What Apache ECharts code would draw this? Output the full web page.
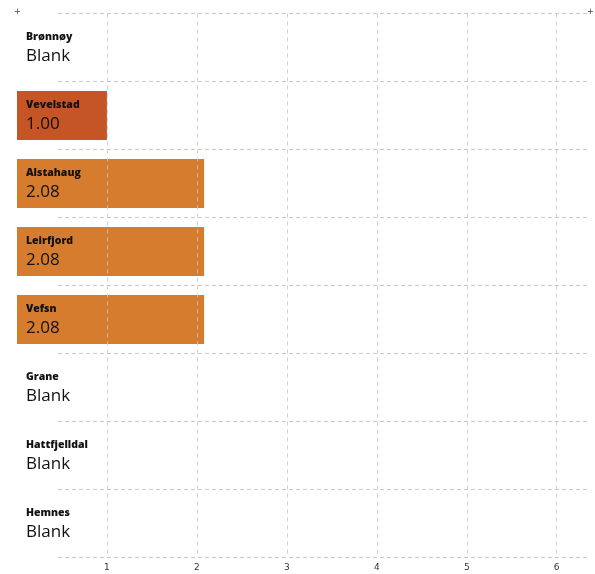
<!DOCTYPE html>
<html>
<head>
<meta charset="utf-8">
<script src="https://cdn.jsdelivr.net/npm/echarts@6/dist/echarts.min.js"></script>
<style>
html,body{margin:0;padding:0;background:#fff;}
#chart{width:595px;height:574px;}
</style>
</head>
<body>
<div id="chart"></div>
<script>
var categories = ['Brønnøy', 'Vevelstad', 'Alstahaug', 'Leirfjord', 'Vefsn', 'Grane', 'Hattfjelldal', 'Hemnes'];
var values = [null, 1.00, 2.08, 2.08, 2.08, null, null, null];
var xTicks = [1, 2, 3, 4, 5, 6];
var highlighted = 'Vevelstad';

var chart = echarts.init(document.getElementById('chart'), null, {renderer: 'canvas'});

var GRID_TOP = 13.5, GRID_BOTTOM = 16.5;
var barData = values.map(function (v, i) {
  if (v === null) return '-';
  return {
    value: v,
    itemStyle: {color: categories[i] === highlighted ? '#c55525' : '#d67c2f'}
  };
});
var carrierData = categories.map(function () { return 0; });

var option = {
  animation: false,
  grid: [
    {left: 17, right: 5, top: GRID_TOP, bottom: GRID_BOTTOM},
    {left: 58, right: 5, top: GRID_TOP, bottom: GRID_BOTTOM}
  ],
  xAxis: [
    {
      gridIndex: 0, type: 'value', min: 0, max: 6.37, interval: 1,
      axisLine: {show: false}, axisTick: {show: false}, splitLine: {show: false},
      axisLabel: {
        show: true, margin: 6, color: '#333', fontSize: 9, fontFamily: 'DejaVu Sans',
        showMaxLabel: false,
        formatter: function (v) { return xTicks.indexOf(v) >= 0 ? String(v) : ''; }
      }
    },
    {
      gridIndex: 1, type: 'value', min: 0, max: 1, show: false
    }
  ],
  yAxis: [
    {
      gridIndex: 0, type: 'category', data: categories, inverse: true,
      axisLine: {show: false}, axisTick: {show: false}, axisLabel: {show: false},
      splitLine: {show: false}
    },
    {
      gridIndex: 1, type: 'category', data: categories, inverse: true,
      axisLine: {show: false}, axisTick: {show: false}, axisLabel: {show: false},
      splitLine: {show: true, lineStyle: {color: '#c8c8c8', width: 1, type: [4, 3]}}
    }
  ],
  series: [
    {
      type: 'bar', xAxisIndex: 0, yAxisIndex: 0,
      data: barData, barWidth: 49, z: 2,
      markLine: {
        silent: true, symbol: 'none', z: 4,
        label: {show: false},
        lineStyle: {color: 'rgba(200,200,200,0.85)', width: 1, type: [4, 4]},
        data: xTicks.map(function (t) { return {xAxis: t}; })
      }
    },
    {
      type: 'bar', xAxisIndex: 0, yAxisIndex: 0,
      data: carrierData, barWidth: 49, barGap: '-100%', z: 10,
      itemStyle: {color: 'rgba(0,0,0,0)'},
      label: {
        show: true, position: 'insideLeft', distance: 9, offset: [0, -0.5],
        formatter: function (p) {
          var v = values[p.dataIndex];
          return '{n|' + categories[p.dataIndex] + '}\n{v|' + (v === null ? 'Blank' : v.toFixed(2)) + '}';
        },
        rich: {
          n: {fontSize: 10.5, fontWeight: 800, fontFamily: 'Open Sans', color: '#111', lineHeight: 18},
          v: {fontSize: 17, fontFamily: 'Open Sans', color: '#111', lineHeight: 20}
        }
      }
    }
  ],
  graphic: [
    {type: 'text', left: 14, top: 8, style: {text: '+', fontSize: 8, fill: '#444', fontFamily: 'DejaVu Sans'}},
    {type: 'text', left: 587, top: 8, style: {text: '+', fontSize: 8, fill: '#444', fontFamily: 'DejaVu Sans'}}
  ]
};
chart.setOption(option);
</script>
</body>
</html>
